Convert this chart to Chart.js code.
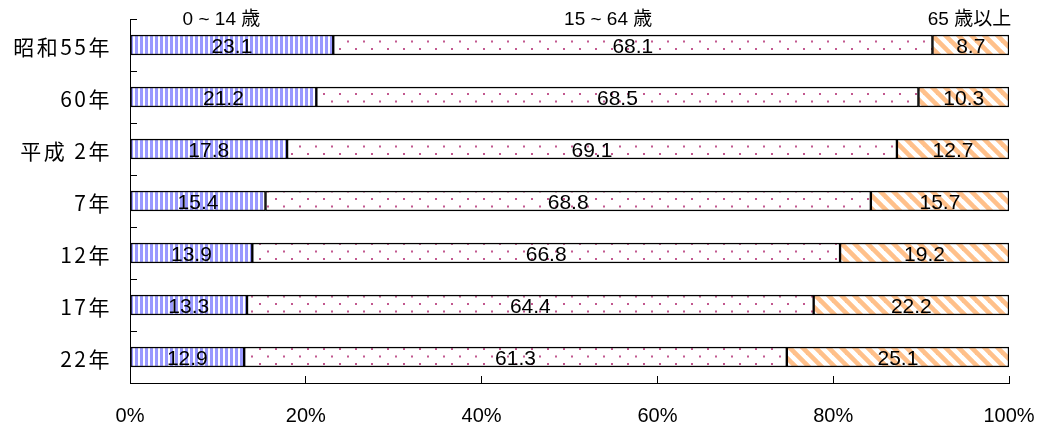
<!DOCTYPE html>
<html lang="ja">
<head>
<meta charset="utf-8">
<title>年齢3区分別人口の割合</title>
<script src="https://cdn.jsdelivr.net/npm/chart.js@4/dist/chart.umd.min.js"></script>
<style>
  html, body { margin: 0; padding: 0; background: #ffffff; }
  #wrap { width: 1038px; height: 427px; }
</style>
</head>
<body>
<div id="wrap"><canvas id="chart" width="1038" height="427"></canvas></div>
<script>
// 年齢3区分別人口の割合（%）
const categories = ['昭和55年', '60年', '平成 2年', '7年', '12年', '17年', '22年'];
const age0to14   = [23.1, 21.2, 17.8, 15.4, 13.9, 13.3, 12.9];
const age15to64  = [68.1, 68.5, 69.1, 68.8, 66.8, 64.4, 61.3];
const age65plus  = [8.7, 10.3, 12.7, 15.7, 19.2, 22.2, 25.1];
const groupNames = ['0 ~ 14 歳', '15 ~ 64 歳', '65 歳以上'];
const seriesValues = [age0to14, age15to64, age65plus];

// 100% 積み上げ：各年の合計で割って構成比にする（年齢不詳分を除く）
const rowTotals = categories.map((_, i) => seriesValues.reduce((s, arr) => s + arr[i], 0));
const shares = seriesValues.map(arr => arr.map((v, i) => v / rowTotals[i] * 100));

// ハッチング用パターン
function makePattern(w, h, paint) {
  const c = document.createElement('canvas');
  c.width = w; c.height = h;
  const g = c.getContext('2d');
  g.fillStyle = '#ffffff';
  g.fillRect(0, 0, w, h);
  paint(g);
  return g.createPattern(c, 'repeat');
}
const ctx = document.getElementById('chart').getContext('2d');

const stripePattern = makePattern(5, 4, g => {
  g.fillStyle = '#9999ff';
  g.fillRect(0, 0, 3, 4);
});
const dotPattern = makePattern(16, 15, g => {
  g.fillStyle = '#c2588f';
  g.fillRect(3, 3, 2, 2);
  g.fillRect(11, 10.5, 2, 2);
});
const diagPattern = makePattern(13, 13, g => {
  g.strokeStyle = '#ffc08a';
  g.lineWidth = 4.6;
  for (const c of [-13, 0, 13]) {
    g.beginPath();
    g.moveTo(-2, c - 2);
    g.lineTo(15, c + 15);
    g.stroke();
  }
});
const fills = [stripePattern, dotPattern, diagPattern];

// 各区分の値ラベル（棒の中央）
const valueLabels = {
  id: 'valueLabels',
  afterDatasetsDraw(chart) {
    const c = chart.ctx;
    c.save();
    c.font = '21px "Liberation Sans", Arial, sans-serif';
    c.fillStyle = '#000000';
    c.textAlign = 'center';
    c.textBaseline = 'middle';
    chart.data.datasets.forEach((ds, di) => {
      chart.getDatasetMeta(di).data.forEach((el, i) => {
        const x = (el.x + el.base) / 2;
        c.fillText(seriesValues[di][i].toFixed(1), x, el.y + 2.5);
      });
    });
    c.restore();
  }
};

// 年次ラベル（左）と区分名（上）
const sideLabels = {
  id: 'sideLabels',
  afterDraw(chart) {
    const c = chart.ctx;
    const ys = chart.scales.y;
    const xs = chart.scales.x;
    c.save();
    c.fillStyle = '#000000';
    c.font = '21px "Noto Sans CJK JP", sans-serif';
    c.letterSpacing = '2.5px';
    c.textAlign = 'right';
    c.textBaseline = 'middle';
    categories.forEach((lab, i) => {
      c.fillText(lab, 112, ys.getPixelForValue(i) + 2);
    });
    c.letterSpacing = '0px';
    c.font = '19px "Liberation Sans", "Noto Sans CJK JP", sans-serif';
    c.textAlign = 'center';
    const headX = [10.4, 54.4, 95.5];
    groupNames.forEach((name, k) => {
      c.fillText(name, xs.getPixelForValue(headX[k]), 20);
    });
    c.restore();
  }
};

new Chart(ctx, {
  type: 'bar',
  data: {
    labels: categories,
    datasets: groupNames.map((name, k) => ({
      label: name,
      data: shares[k],
      backgroundColor: fills[k],
      borderColor: '#000000',
      borderWidth: 1.5,
      borderSkipped: false,
      barThickness: 20
    }))
  },
  options: {
    indexAxis: 'y',
    responsive: false,
    animation: false,
    devicePixelRatio: 1,
    layout: { padding: { left: 0, right: 29, top: 19, bottom: 0 } },
    plugins: {
      legend: { display: false },
      tooltip: { enabled: false }
    },
    scales: {
      x: {
        stacked: true,
        min: 0,
        max: 100,
        ticks: {
          stepSize: 20,
          callback: v => v + '%',
          color: '#000000',
          font: { family: '"Liberation Sans", Arial, sans-serif', size: 20 },
          padding: 28,
          maxRotation: 0
        },
        grid: {
          drawOnChartArea: false,
          drawTicks: true,
          tickLength: -7,
          color: '#000000',
          lineWidth: 1
        },
        border: { display: true, color: '#000000', width: 1 },
        afterFit: s => { s.height = 44; s.paddingLeft = 0; s.paddingRight = 0; }
      },
      y: {
        stacked: true,
        ticks: { display: false },
        grid: {
          offset: true,
          drawOnChartArea: false,
          drawTicks: true,
          tickLength: -7,
          color: '#000000',
          lineWidth: 1
        },
        border: { display: true, color: '#000000', width: 1 },
        afterFit: s => { s.width = 130; }
      }
    }
  },
  plugins: [valueLabels, sideLabels]
});
</script>
</body>
</html>
